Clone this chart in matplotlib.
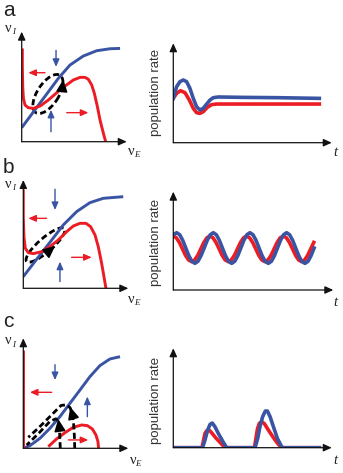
import matplotlib
matplotlib.use('Agg')
import matplotlib.pyplot as plt
from matplotlib.patches import Ellipse

W, H = 343, 473
fig = plt.figure(figsize=(W / 100, H / 100), dpi=100)

RED = '#ec1c24'
BLUE = '#3a54a4'

# ---------------- data (normalized to each panel's axes) ----------------
# Panel a, phase plane
a_blue_x = [0.0, 0.111, 0.238, 0.349, 0.46, 0.587, 0.714, 0.841, 0.937]
a_blue_y = [0.127, 0.27, 0.433, 0.576, 0.697, 0.779, 0.827, 0.845, 0.848]
a_red_x = [0.006, 0.006, 0.01, 0.016, 0.032, 0.063, 0.111, 0.175, 0.254, 0.333, 0.413,
           0.492, 0.556, 0.603, 0.635, 0.667, 0.692, 0.721, 0.746, 0.778, 0.8]
a_red_y = [0.848, 0.682, 0.5, 0.394, 0.333, 0.309, 0.303, 0.324, 0.379, 0.445, 0.506,
           0.561, 0.585, 0.585, 0.567, 0.515, 0.439, 0.318, 0.197, 0.076, 0.0]
# Panel a, time course
a_t_blue = [0.0, 0.021, 0.042, 0.063, 0.084, 0.105, 0.126, 0.147, 0.168, 0.189, 0.211,
            0.232, 0.253, 0.284, 0.442, 0.653, 0.922]
a_r_blue = [0.446, 0.564, 0.614, 0.631, 0.614, 0.547, 0.446, 0.362, 0.329, 0.346, 0.389,
            0.43, 0.453, 0.46, 0.456, 0.453, 0.446]
a_t_red = [0.0, 0.021, 0.046, 0.074, 0.101, 0.126, 0.147, 0.168, 0.189, 0.215, 0.242,
           0.274, 0.922]
a_r_red = [0.446, 0.497, 0.523, 0.503, 0.43, 0.346, 0.302, 0.295, 0.312, 0.356, 0.383,
           0.389, 0.389]

# Panel b, phase plane
b_blue_x = [0.0, 0.127, 0.254, 0.381, 0.508, 0.635, 0.762, 0.952]
b_blue_y = [0.108, 0.268, 0.425, 0.585, 0.708, 0.791, 0.831, 0.846]
b_red_x = [0.0, 0.0, 0.006, 0.019, 0.048, 0.095, 0.175, 0.254, 0.333, 0.413, 0.476,
           0.54, 0.597, 0.641, 0.683, 0.714, 0.746, 0.768, 0.787]
b_red_y = [0.914, 0.662, 0.477, 0.369, 0.329, 0.32, 0.338, 0.385, 0.446, 0.523, 0.575,
           0.6, 0.6, 0.569, 0.492, 0.385, 0.231, 0.108, 0.0]
# Panel b, time course (oscillation)
b_t_blue = [0.000, 0.021, 0.040, 0.059, 0.078, 0.097, 0.116, 0.135, 0.154, 0.173, 0.193,
            0.212, 0.231, 0.250, 0.269, 0.288, 0.307, 0.326, 0.345, 0.365, 0.384, 0.403,
            0.422, 0.441, 0.460, 0.479, 0.498, 0.517, 0.536, 0.555, 0.574, 0.594, 0.613,
            0.632, 0.651, 0.670, 0.689, 0.708, 0.727, 0.746, 0.765, 0.784, 0.803, 0.823,
            0.842, 0.861, 0.880]
b_r_blue = [0.562, 0.583, 0.562, 0.505, 0.427, 0.349, 0.292, 0.271, 0.292, 0.349, 0.427,
            0.505, 0.562, 0.583, 0.562, 0.505, 0.427, 0.349, 0.292, 0.271, 0.292, 0.349,
            0.427, 0.505, 0.562, 0.583, 0.562, 0.505, 0.427, 0.349, 0.292, 0.271, 0.292,
            0.349, 0.427, 0.505, 0.562, 0.583, 0.562, 0.505, 0.427, 0.349, 0.292, 0.271,
            0.292, 0.349, 0.427]
b_t_red = [0.000, 0.019, 0.038, 0.057, 0.076, 0.095, 0.115, 0.134, 0.153, 0.172, 0.191,
           0.210, 0.229, 0.248, 0.267, 0.286, 0.305, 0.324, 0.344, 0.363, 0.382, 0.401,
           0.420, 0.439, 0.458, 0.477, 0.496, 0.515, 0.534, 0.553, 0.573, 0.592, 0.611,
           0.630, 0.649, 0.668, 0.688, 0.707, 0.726, 0.745, 0.764, 0.783, 0.802, 0.821,
           0.840, 0.859, 0.878]
b_r_red = [0.549, 0.531, 0.484, 0.419, 0.353, 0.306, 0.288, 0.306, 0.353, 0.419, 0.484,
           0.531, 0.549, 0.531, 0.484, 0.419, 0.353, 0.306, 0.288, 0.306, 0.353, 0.419,
           0.484, 0.531, 0.549, 0.531, 0.484, 0.419, 0.353, 0.306, 0.288, 0.306, 0.353,
           0.419, 0.484, 0.531, 0.549, 0.531, 0.484, 0.419, 0.353, 0.306, 0.288, 0.306,
           0.353, 0.419, 0.484]

# Panel c, phase plane
c_blue_x = [0.0, 0.063, 0.159, 0.254, 0.349, 0.444, 0.54, 0.635, 0.73, 0.825, 0.921]
c_blue_y = [0.0, 0.024, 0.091, 0.182, 0.288, 0.409, 0.53, 0.652, 0.752, 0.812, 0.833]
c_red_vert_x = [0.0, 0.0, 0.02]
c_red_vert_y = [0.894, 0.0, 0.0]
c_red_hump_x = [0.238, 0.317, 0.397, 0.476, 0.556, 0.61, 0.657, 0.692, 0.711, 0.717]
c_red_hump_y = [0.015, 0.085, 0.142, 0.191, 0.212, 0.206, 0.176, 0.121, 0.061, 0.0]
c_traj1_x = [0.352, 0.348, 0.343, 0.335, 0.31, 0.254, 0.15, 0.06, 0.032]
c_traj1_y = [0.0, 0.1, 0.2, 0.245, 0.268, 0.245, 0.14, 0.055, 0.03]
c_traj2_x = [0.49, 0.486, 0.478, 0.465, 0.445, 0.41, 0.36, 0.25, 0.15, 0.048]
c_traj2_y = [0.0, 0.12, 0.24, 0.32, 0.37, 0.395, 0.39, 0.285, 0.19, 0.1]
# Panel c, time course (bursts)
c_t_blue = [0.0, 0.185, 0.2, 0.217, 0.232, 0.246, 0.263, 0.284, 0.316, 0.337, 0.516,
            0.533, 0.547, 0.564, 0.581, 0.594, 0.611, 0.632, 0.657, 0.684, 0.695, 0.922]
c_r_blue = [0.0, 0.0, 0.077, 0.178, 0.235, 0.248, 0.211, 0.144, 0.054, 0.0, 0.0,
            0.094, 0.211, 0.312, 0.369, 0.369, 0.312, 0.211, 0.094, 0.01, 0.0, 0.0]
c_t_red = [0.0, 0.181, 0.189, 0.2, 0.211, 0.225, 0.242, 0.267, 0.295, 0.32, 0.328, 0.512,
           0.52, 0.531, 0.543, 0.558, 0.575, 0.6, 0.632, 0.663, 0.684, 0.922]
c_r_red = [0.0, 0.0, 0.06, 0.144, 0.171, 0.178, 0.151, 0.101, 0.054, 0.01, 0.0, 0.0,
           0.077, 0.188, 0.245, 0.262, 0.242, 0.178, 0.101, 0.034, 0.0, 0.0]

panel_labels = ['a', 'b', 'c']
ylabel_right = 'population rate'


# ---------------- helpers ----------------
def add_ax(x0, y0, x1, y1):
    ax = fig.add_axes([x0 / W, 1 - y1 / H, (x1 - x0) / W, (y1 - y0) / H])
    ax.set_xlim(0, 1)
    ax.set_ylim(0, 1)
    ax.axis('off')
    return ax


def axis_arrows(ax):
    kw = dict(arrowstyle='-|>,head_length=0.55,head_width=0.25', color='#111111',
              lw=0.9, shrinkA=0, shrinkB=0, mutation_scale=9)
    ax.annotate('', xy=(1, 0), xytext=(0, 0), xycoords='axes fraction',
                arrowprops=kw, annotation_clip=False)
    ax.annotate('', xy=(0, 1), xytext=(0, 0), xycoords='axes fraction',
                arrowprops=kw, annotation_clip=False)


def small_arrow(ax, start, end, color):
    ax.annotate('', xy=end, xytext=start,
                arrowprops=dict(arrowstyle='-|>,head_length=0.5,head_width=0.22',
                                color=color, lw=1.0, shrinkA=0, shrinkB=0,
                                mutation_scale=9),
                annotation_clip=False)


def big_head(ax, start, end):
    ax.annotate('', xy=end, xytext=start,
                arrowprops=dict(arrowstyle='-|>,head_length=0.6,head_width=0.28',
                                color='black', lw=1.2, shrinkA=0, shrinkB=0,
                                mutation_scale=12),
                annotation_clip=False)


def ftext(x, y, s, ha='center', va='center', **kw):
    fig.text(x / W, 1 - y / H, s, ha=ha, va=va, **kw)


def nu_label(x, y, sub):
    ftext(x, y, 'ν', family='Liberation Serif', fontsize=10.5, color='#222222')
    ftext(x + 5, y + 3.5, sub, family='Liberation Serif', style='italic',
          fontsize=6.5, color='#222222')


DASH = (0, (2.2, 1.2))
LW_L = 2.1
LW_R = 2.6

# ---------------- panel a ----------------
axA = add_ax(21.7, 31.7, 126.7, 141.7)
axis_arrows(axA)
axA.plot(a_blue_x, a_blue_y, color=BLUE, lw=LW_L, solid_capstyle='butt')
axA.plot(a_red_x, a_red_y, color=RED, lw=LW_L, solid_capstyle='butt')
axA.add_patch(Ellipse((0.25, 0.434), 0.41, 0.2, angle=55, fill=False,
                      ec='black', lw=2.0, ls=DASH))
big_head(axA, (0.387, 0.49), (0.396, 0.565))
small_arrow(axA, (0.222, 0.627), (0.063, 0.627), RED)
small_arrow(axA, (0.429, 0.264), (0.635, 0.264), RED)
small_arrow(axA, (0.327, 0.83), (0.327, 0.68), BLUE)
small_arrow(axA, (0.279, 0.09), (0.279, 0.29), BLUE)

axAr = add_ax(173.3, 43.3, 331.7, 142.7)
axis_arrows(axAr)
axAr.plot(a_t_red, a_r_red, color=RED, lw=LW_R)
axAr.plot(a_t_blue, a_r_blue, color=BLUE, lw=LW_R)

# ---------------- panel b ----------------
axB = add_ax(23.3, 180, 128.3, 288.3)
axis_arrows(axB)
axB.plot(b_blue_x, b_blue_y, color=BLUE, lw=LW_L, solid_capstyle='butt')
axB.plot(b_red_x, b_red_y, color=RED, lw=LW_L, solid_capstyle='butt')
axB.add_patch(Ellipse((0.211, 0.4), 0.47, 0.13, angle=40, fill=False,
                      ec='black', lw=2.0, ls=DASH))
big_head(axB, (0.24, 0.34), (0.303, 0.391))
small_arrow(axB, (0.222, 0.646), (0.048, 0.646), RED)
small_arrow(axB, (0.46, 0.286), (0.651, 0.286), RED)
small_arrow(axB, (0.302, 0.914), (0.302, 0.723), BLUE)
small_arrow(axB, (0.349, 0.062), (0.349, 0.246), BLUE)

axBr = add_ax(173.3, 191.7, 333.3, 290)
axis_arrows(axBr)
axBr.plot(b_t_red, b_r_red, color=RED, lw=LW_R)
axBr.plot(b_t_blue, b_r_blue, color=BLUE, lw=LW_R)

# ---------------- panel c ----------------
axC = add_ax(23.3, 338.3, 128.3, 448.3)
axis_arrows(axC)
axC.plot(c_blue_x, c_blue_y, color=BLUE, lw=LW_L, solid_capstyle='butt')
axC.plot(c_red_vert_x, c_red_vert_y, color=RED, lw=LW_L, solid_capstyle='butt')
axC.plot(c_red_hump_x, c_red_hump_y, color=RED, lw=LW_L, solid_capstyle='butt')
axC.plot(c_traj1_x, c_traj1_y, color='black', lw=2.0, ls=DASH)
axC.plot(c_traj2_x, c_traj2_y, color='black', lw=2.0, ls=DASH)
big_head(axC, (0.341, 0.21), (0.333, 0.265))
big_head(axC, (0.462, 0.325), (0.447, 0.375))
small_arrow(axC, (0.27, 0.509), (0.063, 0.509), RED)
small_arrow(axC, (0.429, 0.076), (0.619, 0.076), RED)
small_arrow(axC, (0.302, 0.76), (0.302, 0.62), BLUE)
small_arrow(axC, (0.61, 0.288), (0.61, 0.47), BLUE)

axCr = add_ax(173.3, 348.3, 331.7, 447.7)
axis_arrows(axCr)
axCr.plot(c_t_red, c_r_red, color=RED, lw=LW_R)
axCr.plot(c_t_blue, c_r_blue, color=BLUE, lw=LW_R)

# ---------------- text ----------------
for lab, (x, y) in zip(panel_labels, [(3, 15.6), (3, 173), (3, 327)]):
    ftext(x, y, lab, ha='left', va='baseline', family='Liberation Sans',
          fontsize=15, color='#222222')

for y in [92, 242, 400]:
    ftext(155.5, y, ylabel_right, family='Liberation Sans', fontsize=9.5,
          rotation=90, color='#333333')

nu_label(8.3, 28.5, 'I')
nu_label(8.3, 185, 'I')
nu_label(8.3, 341, 'I')
nu_label(131.5, 151.5, 'E')
nu_label(131.5, 299, 'E')
nu_label(133, 460, 'E')

for y in [153, 302, 460]:
    ftext(335.5, y, 't', family='Liberation Serif', style='italic', fontsize=10.5,
          color='#222222')

fig.savefig('out.png', dpi=100)
